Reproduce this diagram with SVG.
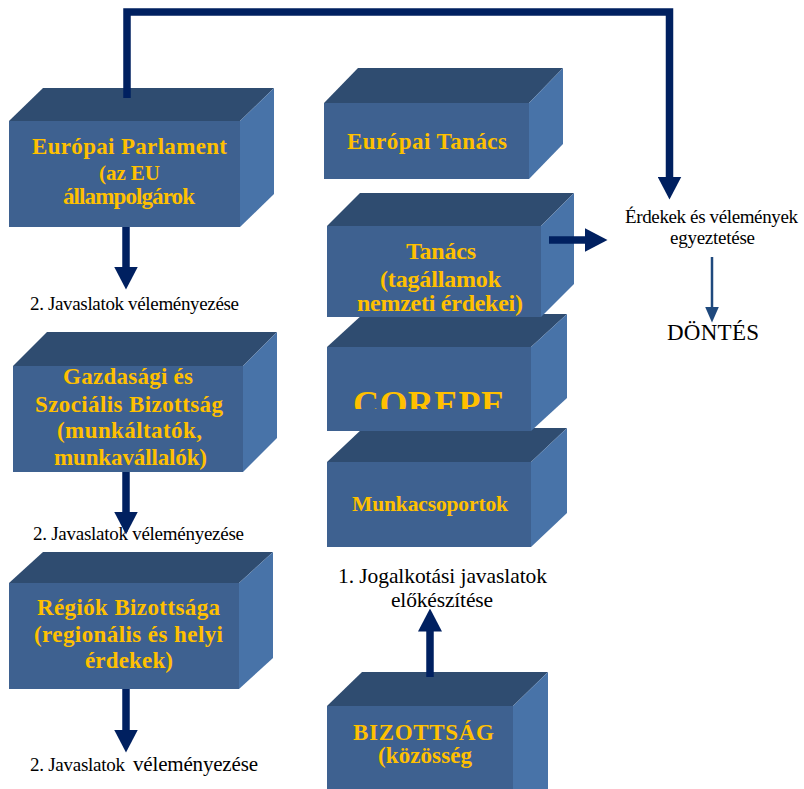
<svg xmlns="http://www.w3.org/2000/svg" width="804" height="789" viewBox="0 0 804 789">
<style>
.front{fill:#3E6190;}
.top{fill:#2F4C70;}
.side{fill:#4873A8;}
.bt{font-family:"Liberation Serif","Times New Roman",serif;font-weight:bold;fill:#FFC000;text-anchor:middle;font-size:23px;}
.lbl{font-family:"Liberation Serif","Times New Roman",serif;fill:#000;font-size:19px;}
.conn{fill:none;stroke:#002060;stroke-width:7.5;stroke-linejoin:miter;}
.thin{fill:none;stroke:#1F497D;stroke-width:2.5;}
</style>
<defs>
<marker id="ah" viewBox="0 0 23 24" markerWidth="23" markerHeight="24" refX="0.5" refY="12" orient="auto" markerUnits="userSpaceOnUse">
<path d="M0,0 L23,12 L0,24 Z" fill="#002060"/>
</marker>
<marker id="ahs" viewBox="0 0 16 14" markerWidth="16" markerHeight="14" refX="0.5" refY="7" orient="auto" markerUnits="userSpaceOnUse">
<path d="M0,0 L16,7 L0,14 Z" fill="#1F497D"/>
</marker>
<clipPath id="corClip"><rect x="327" y="347" width="204" height="62"/></clipPath>
</defs>
<rect width="804" height="789" fill="#fff"/>

<g id="europai-parlament">
<polygon class="top" points="9,121 43,88 274,88 240,121"/>
<polygon class="side" points="240,121 274,88 274,194 240,227"/>
<rect class="front" x="9" y="121" width="231" height="106"/>
<text class="bt" x="129.5" y="154" textLength="195" lengthAdjust="spacing">Európai Parlament</text>
<text class="bt" x="129.5" y="180" style="font-size:21px" textLength="61" lengthAdjust="spacing">(az EU</text>
<text class="bt" x="129" y="204" textLength="132" lengthAdjust="spacing">állampolgárok</text>
</g>

<g id="europai-tanacs">
<polygon class="top" points="324,103 358,68 563,68 529,103"/>
<polygon class="side" points="529,103 563,68 563,144 529,179"/>
<rect class="front" x="324" y="103" width="205" height="76"/>
<text class="bt" x="427" y="149" textLength="160" lengthAdjust="spacing">Európai Tanács</text>
</g>

<g id="munkacsoportok">
<polygon class="top" points="327,462 363,428 567,428 531,462"/>
<polygon class="side" points="531,462 567,428 567,513 531,547"/>
<rect class="front" x="327" y="462" width="204" height="85"/>
<text class="bt" x="430" y="511" style="font-size:21.5px" textLength="156" lengthAdjust="spacing">Munkacsoportok</text>
</g>

<g id="coreper">
<polygon class="top" points="327,347 363,314 567,314 531,347"/>
<polygon class="side" points="531,347 567,314 567,398 531,431"/>
<rect class="front" x="327" y="347" width="204" height="84"/>
<text class="bt" x="429" y="416" style="font-size:36px" textLength="152" lengthAdjust="spacing" clip-path="url(#corClip)">COREPE</text>
</g>

<g id="tanacs">
<polygon class="top" points="327,226 360,193 574,193 541,226"/>
<polygon class="side" points="541,226 574,193 574,284 541,317"/>
<rect class="front" x="327" y="226" width="214" height="91"/>
<text class="bt" x="441" y="259" style="font-size:24px" textLength="70" lengthAdjust="spacing">Tanács</text>
<text class="bt" x="440.5" y="287" style="font-size:24px" textLength="121" lengthAdjust="spacing">(tagállamok</text>
<text class="bt" x="440" y="311" style="font-size:24px" textLength="166" lengthAdjust="spacing">nemzeti érdekei)</text>
</g>

<g id="gazdasagi">
<polygon class="top" points="13,366 47,332 277,332 243,366"/>
<polygon class="side" points="243,366 277,332 277,438 243,472"/>
<rect class="front" x="13" y="366" width="230" height="106"/>
<text class="bt" x="128" y="384" textLength="130" lengthAdjust="spacing">Gazdasági és</text>
<text class="bt" x="129" y="412" textLength="188" lengthAdjust="spacing">Szociális Bizottság</text>
<text class="bt" x="129.5" y="438" textLength="145" lengthAdjust="spacing">(munkáltatók,</text>
<text class="bt" x="130.5" y="465" textLength="153" lengthAdjust="spacing">munkavállalók)</text>
</g>

<g id="regiok">
<polygon class="top" points="9,583 43,552 273,552 239,583"/>
<polygon class="side" points="239,583 273,552 273,658 239,689"/>
<rect class="front" x="9" y="583" width="230" height="106"/>
<text class="bt" x="128.5" y="615" textLength="183" lengthAdjust="spacing">Régiók Bizottsága</text>
<text class="bt" x="128.5" y="642" textLength="189" lengthAdjust="spacing">(regionális és helyi</text>
<text class="bt" x="129" y="668" textLength="88" lengthAdjust="spacing">érdekek)</text>
</g>

<g id="bizottsag">
<polygon class="top" points="327,706 362,672 548,672 513,706"/>
<polygon class="side" points="513,706 548,672 548,800 513,800"/>
<rect class="front" x="327" y="706" width="186" height="90"/>
<text class="bt" x="423.5" y="740" textLength="141" lengthAdjust="spacing">BIZOTTSÁG</text>
<text class="bt" x="425" y="763" textLength="94" lengthAdjust="spacing">(közösség</text>
</g>

<g id="labels">
<text class="lbl" x="30" y="310" textLength="209" lengthAdjust="spacing">2. Javaslatok véleményezése</text>
<text class="lbl" x="33" y="540" textLength="211" lengthAdjust="spacing">2. Javaslatok véleményezése</text>
<text class="lbl" x="30" y="771"><tspan textLength="95" lengthAdjust="spacing">2. Javaslatok</tspan><tspan x="133" style="font-size:21px" textLength="125" lengthAdjust="spacing">véleményezése</tspan></text>
<text class="lbl" x="442.5" y="583" style="font-size:21.5px;text-anchor:middle" textLength="209" lengthAdjust="spacing">1. Jogalkotási javaslatok</text>
<text class="lbl" x="442" y="607" style="font-size:21.5px;text-anchor:middle" textLength="102" lengthAdjust="spacing">előkészítése</text>
<text class="lbl" x="711.5" y="223" style="text-anchor:middle" textLength="173" lengthAdjust="spacing">Érdekek és vélemények</text>
<text class="lbl" x="712.5" y="244" style="text-anchor:middle" textLength="85" lengthAdjust="spacing">egyeztetése</text>
<text class="lbl" x="713" y="340" style="font-size:23px;text-anchor:middle" textLength="92" lengthAdjust="spacing">DÖNTÉS</text>
</g>

<g id="connectors">
<path class="conn" d="M127,98 V12 H669.5 V177" marker-end="url(#ah)"/>
<path class="conn" d="M126,227 V267" marker-end="url(#ah)"/>
<path class="conn" d="M126,472 V512" marker-end="url(#ah)"/>
<path class="conn" d="M126,689 V730" marker-end="url(#ah)"/>
<path class="conn" d="M430,677 V631" marker-end="url(#ah)"/>
<path class="conn" d="M549,240 H585" marker-end="url(#ah)"/>
<path class="thin" d="M712,257 V307" marker-end="url(#ahs)"/>
</g>
</svg>
